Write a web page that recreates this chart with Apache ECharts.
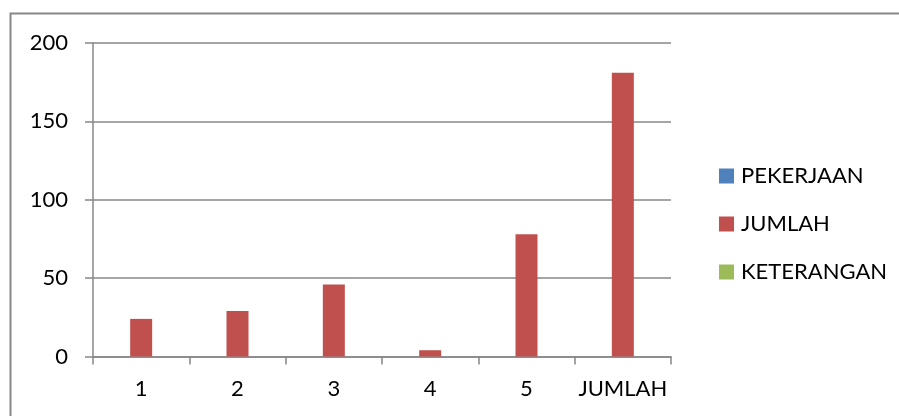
<!DOCTYPE html>
<html>
<head>
<meta charset="utf-8">
<script src="https://cdn.jsdelivr.net/npm/echarts@6/dist/echarts.min.js"></script>
<style>
  html, body { margin: 0; padding: 0; background: #fff; }
  #chart { width: 899px; height: 416px; }
</style>
</head>
<body>
<div id="chart"></div>
<script>
// Categories along the x axis
const categories = ['1', '2', '3', '4', '5', 'JUMLAH'];

// Series values (PEKERJAAN and KETERANGAN hold no numbers)
const pekerjaan = [null, null, null, null, null, null];
const jumlah = [24, 29, 46, 4, 78, 181];
const keterangan = [null, null, null, null, null, null];

// Value axis ticks
const yMin = 0;
const yMax = 200;
const yStep = 50;

const FONT = 'Lato, "Open Sans", sans-serif';
const AXIS_GREY = '#878787';

const chart = echarts.init(document.getElementById('chart'), null, { renderer: 'canvas' });

chart.setOption({
  animation: false,
  backgroundColor: '#ffffff',
  textStyle: { fontFamily: FONT },
  graphic: [{
    type: 'polyline',
    shape: { points: [[10.5, 416], [10.5, 13.5], [899, 13.5]] },
    style: { stroke: AXIS_GREY, lineWidth: 2, fill: null },
    silent: true
  }],
  grid: { left: 93, right: 228, top: 43, bottom: 59.5, containLabel: false },
  legend: {
    orient: 'vertical',
    left: 714,
    top: 160,
    itemWidth: 15,
    itemHeight: 15,
    itemGap: 26,
    icon: 'rect',
    textStyle: { fontFamily: FONT, fontSize: 22, color: '#000', lineHeight: 22, padding: [0, 0, 0, 2] },
    data: ['PEKERJAAN', 'JUMLAH', 'KETERANGAN']
  },
  xAxis: {
    type: 'category',
    data: categories,
    boundaryGap: true,
    axisLine: { show: true, lineStyle: { color: AXIS_GREY, width: 1.5 } },
    axisTick: { show: true, length: 8, interval: 0, alignWithLabel: false, lineStyle: { color: AXIS_GREY, width: 1.5 } },
    axisLabel: { fontFamily: FONT, fontSize: 22, color: '#000', margin: 21, interval: 0 },
    splitLine: { show: false }
  },
  yAxis: {
    type: 'value',
    min: yMin,
    max: yMax,
    interval: yStep,
    axisLine: { show: true, lineStyle: { color: AXIS_GREY, width: 1.5 } },
    axisTick: { show: true, length: 8, lineStyle: { color: AXIS_GREY, width: 1.5 } },
    axisLabel: { fontFamily: FONT, fontSize: 22, color: '#000', margin: 25 },
    splitLine: { show: true, lineStyle: { color: AXIS_GREY, width: 1.5 } }
  },
  series: [
    { name: 'PEKERJAAN', type: 'bar', data: pekerjaan, barWidth: 22, barGap: '0%', itemStyle: { color: '#4F81BD' } },
    { name: 'JUMLAH', type: 'bar', data: jumlah, barWidth: 22, barGap: '0%', itemStyle: { color: '#C0504D' } },
    { name: 'KETERANGAN', type: 'bar', data: keterangan, barWidth: 22, barGap: '0%', itemStyle: { color: '#9BBB59' } }
  ]
});
</script>
</body>
</html>
